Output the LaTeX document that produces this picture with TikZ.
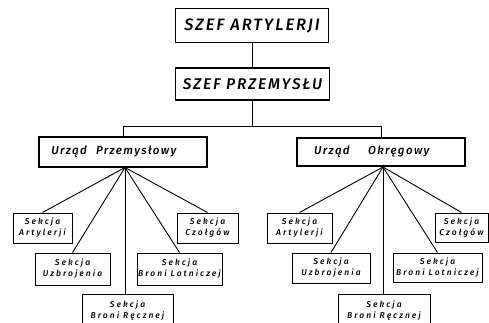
\documentclass[tikz,border=0pt]{standalone}
\usepackage{fontspec}
\newfontfamily\hand{Fira Sans}[LetterSpace=12,UprightFont=* Medium,ItalicFont=* Medium Italic]
\newfontfamily\handw{Fira Sans}[LetterSpace=24,UprightFont=* Medium,ItalicFont=* Medium Italic]
\begin{document}
\begin{tikzpicture}[x=1pt,y=-1pt,
  box/.style={draw,line width=1.3pt,inner sep=0pt,align=center,font=\hand\itshape},
  topbox/.style={box,font=\hand\itshape\fontsize{16.5}{19}\selectfont},
  midbox/.style={box,font=\hand\itshape\fontsize{11.5}{13}\selectfont},
  secbox/.style={box,line width=1pt,font=\handw\itshape\fontsize{8.5}{11}\selectfont},
  conn/.style={line width=0.9pt},
  thin/.style={line width=0.6pt}]
\useasboundingbox (0,0) rectangle (489,322);
\clip (0,0) rectangle (489,322);
\fill[white] (0,0) rectangle (489,322);
\node[topbox,minimum width=153pt,minimum height=34pt] (top) at (252,25.5) {SZEF ARTYLERJI};
\node[topbox,minimum width=154pt,minimum height=32pt,font=\hand\itshape\fontsize{15.5}{19}\selectfont] (sec) at (252.5,84) {SZEF PRZEMYSŁU};
\node[midbox,minimum width=168pt,minimum height=30pt] (L) at (123,152) {Urząd\hspace{0.8em}Przemysłowy\hspace{1.6em}};
\node[midbox,minimum width=168pt,minimum height=28pt] (R) at (381,152) {Urząd\hspace{1.6em}Okręgowy\hspace{1.6em}};
\coordinate (bar) at (top.south|-126,126);
\draw[conn] (top.south) -- (top.south|-sec.north);
\draw[conn] (top.south|-sec.south) -- (bar);
\draw[conn] (L.north) |- (bar);
\draw[conn] (R.north) |- (bar);
% left children
\node[secbox,minimum width=59pt,minimum height=30pt] (lA) at (42.5,228) {Sekcja\\Artylerji};
\node[secbox,minimum width=75pt,minimum height=32pt] (lU) at (72.5,269) {Sekcja\\Uzbrojenia};
\node[secbox,minimum width=91pt,minimum height=34pt] (lR) at (127.5,311) {Sekcja\\Broni Ręcznej};
\node[secbox,minimum width=85pt,minimum height=32pt] (lL) at (179.5,269) {Sekcja\\Broni Lotniczej};
\node[secbox,minimum width=61pt,minimum height=30pt] (lC) at (207.5,228) {Sekcja\\Czołgów};
\coordinate (fanL) at (125,167.5);
\draw[conn] (fanL) -- (lA.north);
\draw[conn] (fanL) -- (lU.north);
\draw[thin] (fanL) -- (fanL|-lR.north);
\draw[conn] (fanL) -- (lL.north);
\draw[conn] (fanL) -- (lC.north);
% right children
\node[secbox,minimum width=65pt,minimum height=30pt] (rA) at (299.5,228) {Sekcja\\Artylerji};
\node[secbox,minimum width=78pt,minimum height=30pt] (rU) at (331,268) {Sekcja\\Uzbrojenia};
\node[secbox,minimum width=92pt,minimum height=34pt] (rR) at (384,311) {Sekcja\\Broni Ręcznej};
\node[secbox,minimum width=89pt,minimum height=29pt] (rL) at (437.5,267.5) {Sekcja\\Broni Lotniczej};
\node[secbox,minimum width=53pt,minimum height=29pt] (rC) at (461.5,227.5) {Sekcja\\Czołgów};
\coordinate (fanR) at (383,167);
\draw[conn] (fanR) -- (rA.north);
\draw[conn] (fanR) -- (rU.north);
\draw[thin] (fanR) -- (fanR|-rR.north);
\draw[conn] (fanR) -- (rL.north);
\draw[conn] (fanR) -- (rC.north);
\end{tikzpicture}
\end{document}
